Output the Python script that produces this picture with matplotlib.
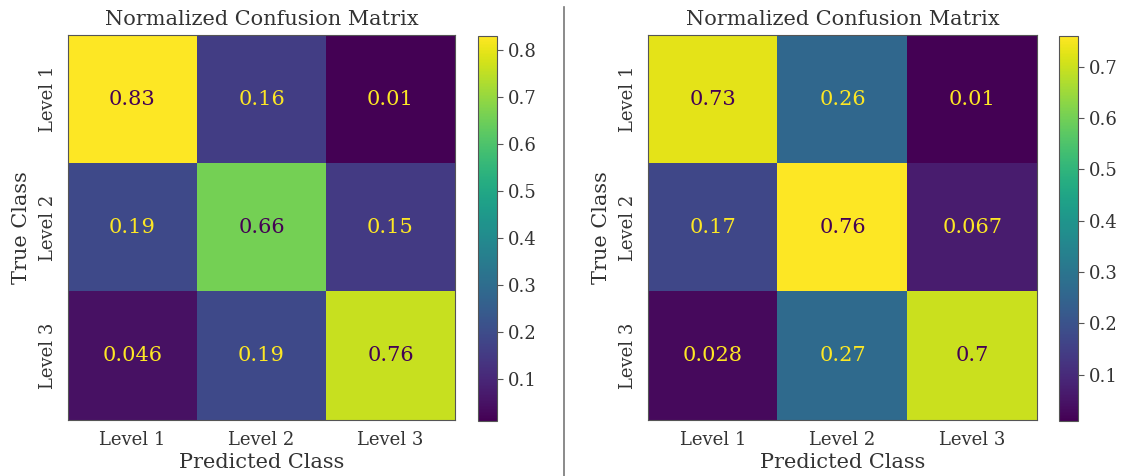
import numpy as np
import matplotlib
matplotlib.use("Agg")
import matplotlib.pyplot as plt
from matplotlib.lines import Line2D

# Normalized confusion matrices (rows: true class, columns: predicted class)
class_labels = ["Level 1", "Level 2", "Level 3"]
cm_left = np.array([
    [0.83, 0.16, 0.01],
    [0.19, 0.66, 0.15],
    [0.046, 0.19, 0.76],
])
cm_right = np.array([
    [0.73, 0.26, 0.01],
    [0.17, 0.76, 0.067],
    [0.028, 0.27, 0.70],
])
cell_text_left = [["0.83", "0.16", "0.01"],
                  ["0.19", "0.66", "0.15"],
                  ["0.046", "0.19", "0.76"]]
cell_text_right = [["0.73", "0.26", "0.01"],
                   ["0.17", "0.76", "0.067"],
                   ["0.028", "0.27", "0.7"]]

TEXT = "#333333"
EDGE = "#555555"
plt.rcParams["font.family"] = ["DejaVu Serif"]
plt.rcParams["text.color"] = TEXT
plt.rcParams["axes.labelcolor"] = TEXT
plt.rcParams["xtick.color"] = EDGE
plt.rcParams["ytick.color"] = EDGE
plt.rcParams["xtick.labelcolor"] = TEXT
plt.rcParams["ytick.labelcolor"] = TEXT

W, H = 1127, 476
fig = plt.figure(figsize=(W / 100, H / 100), dpi=100)


def px_rect(x0, y0, x1, y1):
    return [x0 / W, 1 - y1 / H, (x1 - x0) / W, (y1 - y0) / H]


def draw_cm(ax, cax, cm, texts):
    cmap = plt.get_cmap("viridis")
    im = ax.imshow(cm, cmap=cmap, aspect="auto", interpolation="nearest")
    vmin, vmax = cm.min(), cm.max()
    thresh = (vmin + vmax) / 2.0
    for i in range(cm.shape[0]):
        for j in range(cm.shape[1]):
            color = cmap(0.0) if cm[i, j] >= thresh else cmap(1.0)
            ax.text(j, i, texts[i][j], ha="center", va="center",
                    color=color, fontsize=15)
    ax.set_xticks(range(len(class_labels)))
    ax.set_xticklabels(class_labels, fontsize=13)
    ax.set_yticks(range(len(class_labels)))
    ax.set_yticklabels(class_labels, fontsize=13, rotation=90, va="center")
    ax.tick_params(length=0, pad=8)
    ax.set_xlabel("Predicted Class", fontsize=15, labelpad=3)
    ax.set_ylabel("True Class", fontsize=15, labelpad=6)
    ax.set_title("Normalized Confusion Matrix", fontsize=15, pad=7)
    for s in ax.spines.values():
        s.set_color(EDGE)
    cb = fig.colorbar(im, cax=cax)
    cb.outline.set_edgecolor(EDGE)
    cb.ax.tick_params(labelsize=13, length=4, color=EDGE)
    return cb


ax1 = fig.add_axes(px_rect(68, 35, 455, 420))
cax1 = fig.add_axes(px_rect(478, 36, 497, 421))
draw_cm(ax1, cax1, cm_left, cell_text_left)

ax2 = fig.add_axes(px_rect(648, 35, 1037, 420))
cax2 = fig.add_axes(px_rect(1059, 36, 1078, 421))
draw_cm(ax2, cax2, cm_right, cell_text_right)

# Divider between the two panels
fig.add_artist(Line2D([564 / W, 564 / W], [0, 1 - 7 / H],
                      color="#777777", linewidth=1.2))

fig.savefig("out.png", dpi=100)
